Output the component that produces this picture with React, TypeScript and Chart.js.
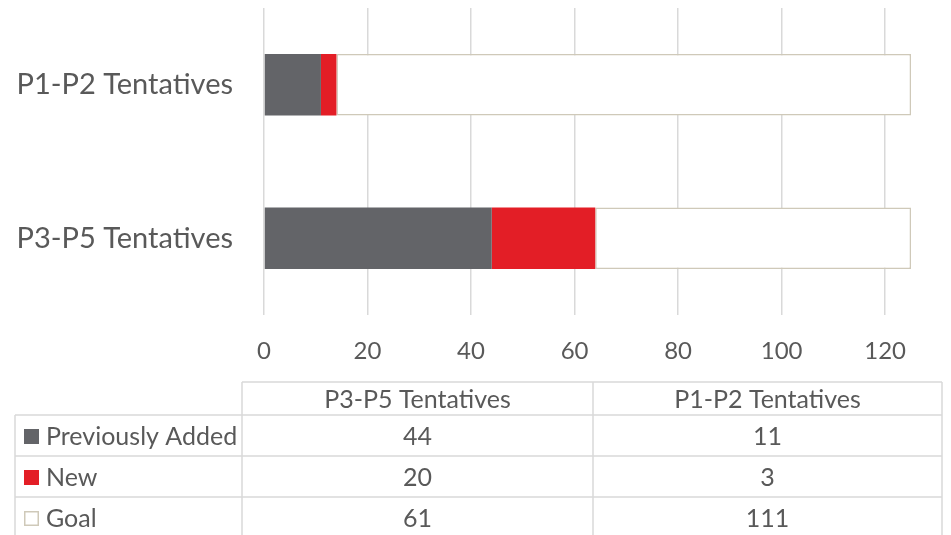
import { useEffect, useRef } from "react";
import { Chart, registerables } from "chart.js";

Chart.register(...registerables);

// ---- data ----
const categories = ["P3-P5 Tentatives", "P1-P2 Tentatives"];
const seriesNames = ["Previously Added", "New", "Goal"];
const previouslyAdded = [44, 11];
const newValues = [20, 3];
const goalValues = [61, 111];
const xTickValues = [0, 20, 40, 60, 80, 100, 120];
const axisMax = 125;

// ---- styles ----
const FONT = "Lato";
const TEXT = "#595959";
const GRID = "#D9D9D9";
const GREY = "#636468";
const RED = "#E31E26";
const GOAL_BORDER = "#CFC9B9";

const tablePlugin = {
  id: "dataTable",
  afterDraw(chart: any) {
    const ctx: CanvasRenderingContext2D = chart.ctx;
    const colX = [15, 242, 593, 942];
    const headerTop = 382;
    const rowY = [415, 456, 497, 538];
    ctx.save();
    ctx.strokeStyle = GRID;
    ctx.lineWidth = 1.5;
    ctx.beginPath();
    ctx.moveTo(colX[1], headerTop);
    ctx.lineTo(colX[3], headerTop);
    for (let i = 0; i < rowY.length - 1; i++) {
      ctx.moveTo(colX[0], rowY[i]);
      ctx.lineTo(colX[3], rowY[i]);
    }
    ctx.moveTo(colX[0], rowY[0]);
    ctx.lineTo(colX[0], rowY[rowY.length - 1]);
    for (let c = 1; c < colX.length; c++) {
      ctx.moveTo(colX[c], headerTop);
      ctx.lineTo(colX[c], rowY[rowY.length - 1]);
    }
    ctx.stroke();

    ctx.fillStyle = TEXT;
    ctx.font = `25px ${FONT}`;
    ctx.textBaseline = "middle";
    ctx.textAlign = "center";
    const labels: string[] = chart.data.labels;
    labels.forEach((lab, i) => {
      ctx.fillText(lab, (colX[i + 1] + colX[i + 2]) / 2, (headerTop + rowY[0]) / 2 + 1);
    });
    chart.data.datasets.forEach((ds: any, r: number) => {
      const cy = (rowY[r] + rowY[r + 1]) / 2 + 1;
      const kx = 24, ks = 15;
      if (ds.backgroundColor === "#FFFFFF") {
        ctx.fillStyle = "#FFFFFF";
        ctx.fillRect(kx, cy - ks / 2, ks, ks);
        ctx.strokeStyle = GOAL_BORDER;
        ctx.lineWidth = 1.5;
        ctx.strokeRect(kx + 0.75, cy - ks / 2 + 0.75, ks - 1.5, ks - 1.5);
      } else {
        ctx.fillStyle = ds.backgroundColor;
        ctx.fillRect(kx, cy - ks / 2, ks, ks);
      }
      ctx.fillStyle = TEXT;
      ctx.textAlign = "left";
      ctx.fillText(ds.label, 46, cy);
      ctx.textAlign = "center";
      ds.data.forEach((v: number, i: number) => {
        ctx.fillText(String(v), (colX[i + 1] + colX[i + 2]) / 2, cy);
      });
    });
    ctx.restore();
  },
};

export default function App() {
  const ref = useRef<HTMLCanvasElement>(null);
  useEffect(() => {
    if (!ref.current) return;
    const chart = new Chart(ref.current, {
      type: "bar",
      data: {
        labels: categories,
        datasets: [
          {
            label: seriesNames[0],
            data: previouslyAdded,
            backgroundColor: GREY,
            borderWidth: 0,
          },
          {
            label: seriesNames[1],
            data: newValues,
            backgroundColor: RED,
            borderWidth: 0,
          },
          {
            label: seriesNames[2],
            data: goalValues,
            backgroundColor: "#FFFFFF",
            borderColor: GOAL_BORDER,
            borderWidth: 1.5,
            borderSkipped: false,
          },
        ],
      },
      options: {
        indexAxis: "y",
        responsive: false,
        animation: false,
        devicePixelRatio: 1,
        layout: { padding: { left: 0, right: 40, top: 8, bottom: 0 } },
        datasets: { bar: { categoryPercentage: 1, barPercentage: 0.4 } },
        plugins: { legend: { display: false }, tooltip: { enabled: false } },
        scales: {
          x: {
            stacked: true,
            min: 0,
            max: axisMax,
            afterBuildTicks: (s: any) => {
              s.ticks = xTickValues.map((v) => ({ value: v }));
            },
            afterFit: (s: any) => {
              s.height = 220;
              s.paddingLeft = 0;
              s.paddingRight = 0;
            },
            grid: { color: GRID, lineWidth: 1.5, drawTicks: false },
            border: { display: false },
            ticks: { color: TEXT, font: { family: FONT, size: 24 }, padding: 22, maxRotation: 0 },
          },
          y: {
            stacked: true,
            reverse: true,
            afterFit: (s: any) => {
              s.width = 264;
              s.paddingTop = 0;
              s.paddingBottom = 0;
            },
            grid: { display: false, drawTicks: false },
            border: { display: false },
            ticks: { color: TEXT, font: { family: FONT, size: 29 }, padding: 31 },
          },
        },
      },
      plugins: [tablePlugin],
    } as any);
    return () => chart.destroy();
  }, []);
  return (
    <div style={{ position: "absolute", left: 0, top: 0, width: 951, height: 535, background: "#fff" }}>
      <canvas ref={ref} width={951} height={535} style={{ width: 951, height: 535, display: "block" }} />
    </div>
  );
}
